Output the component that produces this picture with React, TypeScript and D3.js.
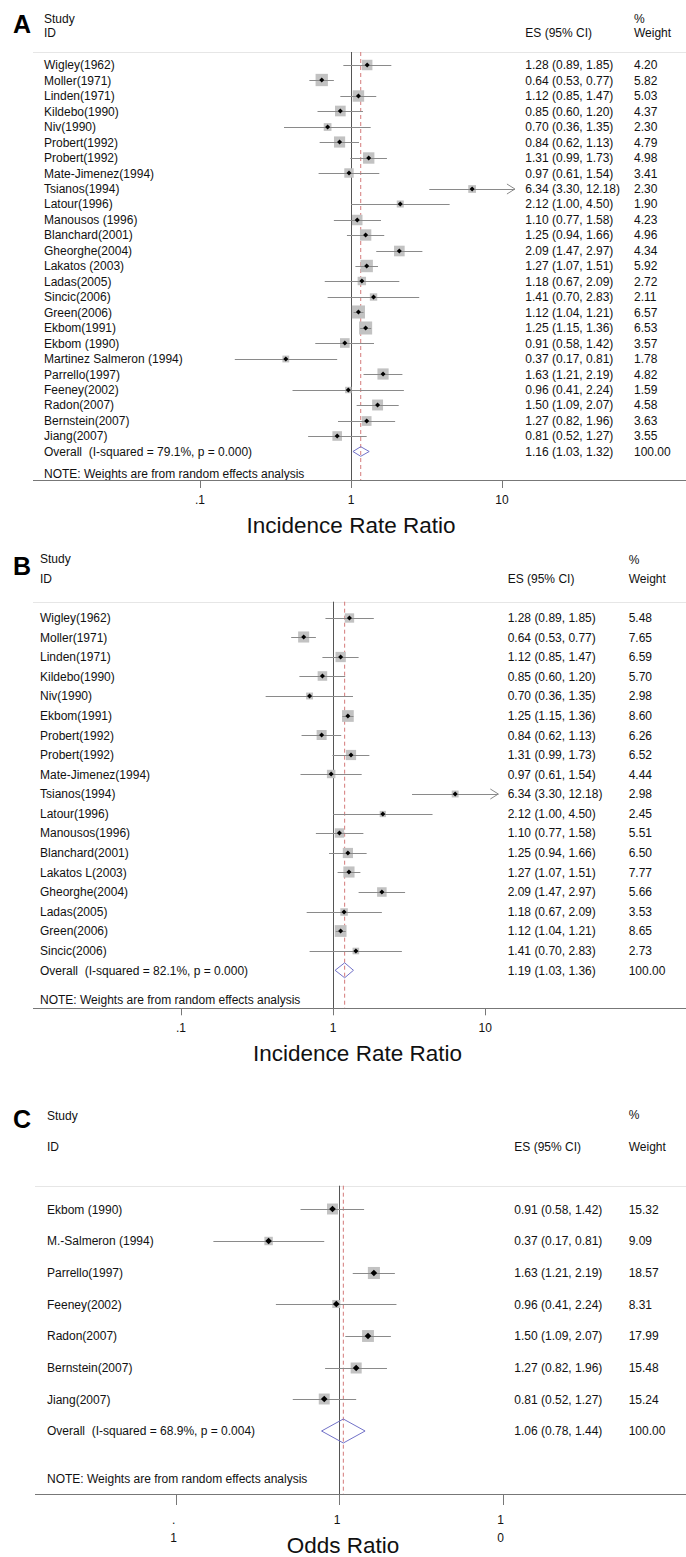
import * as d3 from "d3";

const FONT = "'Liberation Sans', Arial, Helvetica, sans-serif";

// ---- panel A: incidence rate ratio, all studies
const studiesA = [
  "Wigley(1962)", "Moller(1971)", "Linden(1971)", "Kildebo(1990)", "Niv(1990)",
  "Probert(1992)", "Probert(1992)", "Mate-Jimenez(1994)", "Tsianos(1994)", "Latour(1996)",
  "Manousos (1996)", "Blanchard(2001)", "Gheorghe(2004)", "Lakatos (2003)", "Ladas(2005)",
  "Sincic(2006)", "Green(2006)", "Ekbom(1991)", "Ekbom (1990)", "Martinez Salmeron (1994)",
  "Parrello(1997)", "Feeney(2002)", "Radon(2007)", "Bernstein(2007)", "Jiang(2007)",
];
const esA = [1.28, 0.64, 1.12, 0.85, 0.7, 0.84, 1.31, 0.97, 6.34, 2.12, 1.1, 1.25, 2.09, 1.27, 1.18, 1.41, 1.12, 1.25, 0.91, 0.37, 1.63, 0.96, 1.5, 1.27, 0.81];
const lowA = [0.89, 0.53, 0.85, 0.6, 0.36, 0.62, 0.99, 0.61, 3.3, 1.0, 0.77, 0.94, 1.47, 1.07, 0.67, 0.7, 1.04, 1.15, 0.58, 0.17, 1.21, 0.41, 1.09, 0.82, 0.52];
const highA = [1.85, 0.77, 1.47, 1.2, 1.35, 1.13, 1.73, 1.54, 12.18, 4.5, 1.58, 1.66, 2.97, 1.51, 2.09, 2.83, 1.21, 1.36, 1.42, 0.81, 2.19, 2.24, 2.07, 1.96, 1.27];
const weightA = [4.2, 5.82, 5.03, 4.37, 2.3, 4.79, 4.98, 3.41, 2.3, 1.9, 4.23, 4.96, 4.34, 5.92, 2.72, 2.11, 6.57, 6.53, 3.57, 1.78, 4.82, 1.59, 4.58, 3.63, 3.55];
const overallA = [1.16, 1.03, 1.32];
const overallLabelA = "Overall  (I-squared = 79.1%, p = 0.000)";

// ---- panel B
const studiesB = [
  "Wigley(1962)", "Moller(1971)", "Linden(1971)", "Kildebo(1990)", "Niv(1990)",
  "Ekbom(1991)", "Probert(1992)", "Probert(1992)", "Mate-Jimenez(1994)", "Tsianos(1994)",
  "Latour(1996)", "Manousos(1996)", "Blanchard(2001)", "Lakatos L(2003)", "Gheorghe(2004)",
  "Ladas(2005)", "Green(2006)", "Sincic(2006)",
];
const esB = [1.28, 0.64, 1.12, 0.85, 0.7, 1.25, 0.84, 1.31, 0.97, 6.34, 2.12, 1.1, 1.25, 1.27, 2.09, 1.18, 1.12, 1.41];
const lowB = [0.89, 0.53, 0.85, 0.6, 0.36, 1.15, 0.62, 0.99, 0.61, 3.3, 1.0, 0.77, 0.94, 1.07, 1.47, 0.67, 1.04, 0.7];
const highB = [1.85, 0.77, 1.47, 1.2, 1.35, 1.36, 1.13, 1.73, 1.54, 12.18, 4.5, 1.58, 1.66, 1.51, 2.97, 2.09, 1.21, 2.83];
const weightB = [5.48, 7.65, 6.59, 5.7, 2.98, 8.6, 6.26, 6.52, 4.44, 2.98, 2.45, 5.51, 6.5, 7.77, 5.66, 3.53, 8.65, 2.73];
const overallB = [1.19, 1.03, 1.36];
const overallLabelB = "Overall  (I-squared = 82.1%, p = 0.000)";

// ---- panel C: odds ratio
const studiesC = [
  "Ekbom (1990)", "M.-Salmeron (1994)", "Parrello(1997)", "Feeney(2002)",
  "Radon(2007)", "Bernstein(2007)", "Jiang(2007)",
];
const esC = [0.91, 0.37, 1.63, 0.96, 1.5, 1.27, 0.81];
const lowC = [0.58, 0.17, 1.21, 0.41, 1.09, 0.82, 0.52];
const highC = [1.42, 0.81, 2.19, 2.24, 2.07, 1.96, 1.27];
const weightC = [15.32, 9.09, 18.57, 8.31, 17.99, 15.48, 15.24];
const overallC = [1.06, 0.78, 1.44];
const overallLabelC = "Overall  (I-squared = 68.9%, p = 0.004)";

const tickValues = [0.1, 1, 10];
const tickLabels = [".1", "1", "10"];
const note = "NOTE: Weights are from random effects analysis";

// layout of each panel (pixel positions)
const layoutA = {
  letter: "A", letterBase: 33, studyY: 19, idY: 33, pctY: 19, sepY: 52, row0: 65, rowEnd: 451.5,
  noteY: 474, axisY: 480, tickLen: 8, tickLabelY: 500, titleY: 525, titleX: 351, textX: 44,
  esX: 525.3, wX: 634, x01: 200, x10: 502, lineStart: 33, diamondH: 4.8, boxK: 5.1, dot: 2.5,
  title: "Incidence Rate Ratio", wrapTicks: false,
};
const layoutB = {
  letter: "B", letterBase: 575, studyY: 559, idY: 578.5, pctY: 560, sepY: 601.7, row0: 617.7, rowEnd: 970.3,
  noteY: 1000, axisY: 1008.3, tickLen: 7, tickLabelY: 1027.7, titleY: 1052.7, titleX: 357.5, textX: 40,
  esX: 507.7, wX: 628.7, x01: 181, x10: 485.3, lineStart: 33, diamondH: 7.5, boxK: 4.0, dot: 2.5,
  title: "Incidence Rate Ratio", wrapTicks: false,
};
const layoutC = {
  letter: "C", letterBase: 1128, studyY: 1115.7, idY: 1147, pctY: 1115, sepY: 1185.7, row0: 1209.3, rowEnd: 1431,
  noteY: 1479, axisY: 1494, tickLen: 11, tickLabelY: 1519.5, titleY: 1544.5, titleX: 343, textX: 47,
  esX: 514.3, wX: 628.7, x01: 175.7, x10: 502.7, lineStart: 35, diamondH: 12, boxK: 2.8, dot: 3.3,
  title: "Odds Ratio", wrapTicks: true,
};

const fmt = (v: number) => v.toFixed(2);
const ciText = (e: number, l: number, h: number) => `${fmt(e)} (${fmt(l)}, ${fmt(h)})`;
const crisp = (v: number) => Math.round(v) + 0.5;

type Layout = typeof layoutA;

function Forest({ L, studies, es, low, high, weight, overall, overallLabel }: {
  L: Layout; studies: string[]; es: number[]; low: number[]; high: number[]; weight: number[];
  overall: number[]; overallLabel: string;
}) {
  const x = d3.scaleLog().domain([0.1, 10]).range([L.x01, L.x10]);
  const y = d3.scaleLinear().domain([0, studies.length]).range([L.row0, L.rowEnd]);
  const maxTick = tickValues[tickValues.length - 1];
  const T = (props: any) => (
    <text fontSize={12} fill="#111" dy="0.36em" style={{ whiteSpace: "pre" }} {...props} />
  );
  const yo = y(studies.length);
  const [oe, ol, oh] = overall;

  return (
    <g fontFamily={FONT}>
      <text x={13} y={L.letterBase} fontSize={25} fontWeight="bold" fill="#000">{L.letter}</text>
      <T x={L.textX} y={L.studyY}>Study</T>
      <T x={L.textX} y={L.idY}>ID</T>
      <T x={L.esX} y={L.idY}>ES (95% CI)</T>
      <T x={L.wX} y={L.pctY}>%</T>
      <T x={L.wX} y={L.idY}>Weight</T>
      <line x1={L.lineStart} x2={686} y1={crisp(L.sepY)} y2={crisp(L.sepY)} stroke="#e6e6e6" />

      {/* reference lines */}
      <line x1={crisp(x(1))} x2={crisp(x(1))} y1={L.sepY} y2={L.axisY} stroke="#555" />
      <line x1={x(oe)} x2={x(oe)} y1={L.sepY} y2={L.axisY} stroke="#d47a7a" strokeDasharray="4,3" />

      {studies.map((s, i) => {
        const yy = y(i);
        const cy = crisp(yy) - 0.5;
        const cx = x(es[i]);
        const side = L.boxK * Math.sqrt(weight[i]);
        const x1 = x(low[i]);
        const x2 = x(high[i]);
        const arrow = high[i] > maxTick;
        return (
          <g key={i}>
            <rect x={cx - side / 2} y={cy - side / 2} width={side} height={side} fill="#c2c2c2" />
            <line x1={x1} x2={x2} y1={crisp(yy)} y2={crisp(yy)} stroke="#8a8a8a" />
            {arrow && (
              <polyline points={`${x2 - 8},${cy - 5} ${x2},${cy} ${x2 - 8},${cy + 5}`} fill="none" stroke="#8a8a8a" />
            )}
            <path d={`M${cx - L.dot},${cy} L${cx},${cy - L.dot} L${cx + L.dot},${cy} L${cx},${cy + L.dot}Z`} fill="#000" />
            <T x={L.textX} y={yy}>{s}</T>
            <T x={L.esX} y={yy}>{ciText(es[i], low[i], high[i])}</T>
            <T x={L.wX} y={yy}>{fmt(weight[i])}</T>
          </g>
        );
      })}

      {/* overall */}
      <path
        d={`M${x(ol)},${yo} L${x(oe)},${yo - L.diamondH} L${x(oh)},${yo} L${x(oe)},${yo + L.diamondH}Z`}
        fill="none" stroke="#7272c8"
      />
      <T x={L.textX} y={yo}>{overallLabel}</T>
      <T x={L.esX} y={yo}>{ciText(oe, ol, oh)}</T>
      <T x={L.wX} y={yo}>100.00</T>
      <T x={L.textX} y={L.noteY}>{note}</T>

      {/* axis */}
      <line x1={L.lineStart} x2={686} y1={crisp(L.axisY)} y2={crisp(L.axisY)} stroke="#777" />
      {tickValues.map((t, i) => (
        <g key={t}>
          <line x1={crisp(x(t))} x2={crisp(x(t))} y1={L.axisY} y2={L.axisY + L.tickLen} stroke="#777" />
          {L.wrapTicks ? (
            <text x={x(t) - 2} y={L.tickLabelY} fontSize={12} fill="#111" textAnchor="middle">
              {tickLabels[i].split("").map((c, j) => (
                <tspan key={j} x={x(t) - 2} dy={j === 0 ? "0.36em" : 18.5}>{c}</tspan>
              ))}
            </text>
          ) : (
            <T x={x(t)} y={L.tickLabelY} textAnchor="middle">{tickLabels[i]}</T>
          )}
        </g>
      ))}
      <text x={L.titleX} y={L.titleY} dy="0.36em" fontSize={22.5} fill="#111" textAnchor="middle">{L.title}</text>
    </g>
  );
}

export default function App() {
  return (
    <svg width={686} height={1557} style={{ position: "absolute", left: 0, top: 0, background: "#fff" }}>
      <rect width={686} height={1557} fill="#fff" />
      <Forest L={layoutA} studies={studiesA} es={esA} low={lowA} high={highA} weight={weightA} overall={overallA} overallLabel={overallLabelA} />
      <Forest L={layoutB} studies={studiesB} es={esB} low={lowB} high={highB} weight={weightB} overall={overallB} overallLabel={overallLabelB} />
      <Forest L={layoutC} studies={studiesC} es={esC} low={lowC} high={highC} weight={weightC} overall={overallC} overallLabel={overallLabelC} />
    </svg>
  );
}
